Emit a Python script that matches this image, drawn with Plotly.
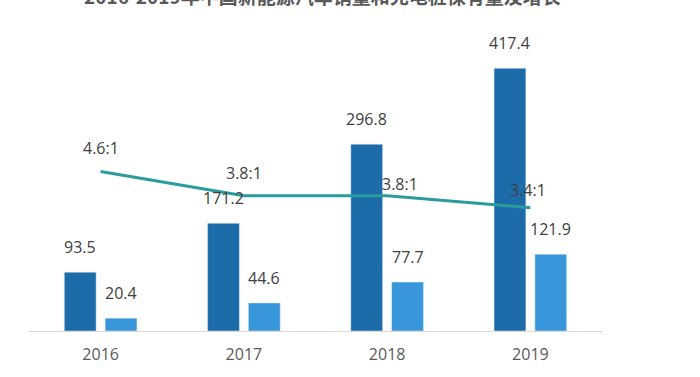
import plotly.graph_objects as go

years = ["2016", "2017", "2018", "2019"]
ev_sales = [93.5, 171.2, 296.8, 417.4]
chargers = [20.4, 44.6, 77.7, 121.9]
ratio = [4.6, 3.8, 3.8, 3.4]
ratio_labels = ["4.6:1", "3.8:1", "3.8:1", "3.4:1"]
title_text = "2016-2019年中国新能源汽车销量和充电桩保有量及增长"

# label offsets (style only)
ratio_xshift = [0, 0, 13, -2]
ratio_yshift = [24, 23, 12, 18]

DARK = "#1d6caa"
LIGHT = "#3797da"
TEAL = "#2a9c9e"
TXT = "#404040"
FONT = "Open Sans, Noto Sans CJK SC, sans-serif"

fig = go.Figure()
fig.add_trace(go.Bar(x=years, y=ev_sales, marker_color=DARK, name="销量", yaxis="y"))
fig.add_trace(go.Bar(x=years, y=chargers, marker_color=LIGHT, name="充电桩", yaxis="y"))
fig.add_trace(go.Scatter(x=years, y=ratio, mode="lines", line=dict(color=TEAL, width=3),
                         yaxis="y2", name="车桩比"))

ann = []
for i, v in enumerate(ev_sales):
    ann.append(dict(x=i, y=v, xref="x", yref="y", text=f"{v:.1f}", showarrow=False,
                    xshift=-20.5, yshift=12, yanchor="bottom",
                    font=dict(size=16, color=TXT, family=FONT)))
for i, v in enumerate(chargers):
    ann.append(dict(x=i, y=v, xref="x", yref="y", text=f"{v:.1f}", showarrow=False,
                    xshift=20.5, yshift=12, yanchor="bottom",
                    font=dict(size=16, color=TXT, family=FONT)))
for i, (v, t, xs, ys) in enumerate(zip(ratio, ratio_labels, ratio_xshift, ratio_yshift)):
    ann.append(dict(x=i, y=v, xref="x", yref="y2", text=t, showarrow=False,
                    xshift=xs, yshift=ys, yanchor="middle",
                    font=dict(size=16, color=TXT, family=FONT)))
ann.append(dict(x=0.512, y=1, xref="paper", yref="paper", text=f"<b>{title_text}</b>",
                showarrow=False, yanchor="middle", yshift=49,
                font=dict(size=19, color="#595959", family="Noto Sans CJK SC, sans-serif")))

fig.update_layout(
    width=700, height=377,
    margin=dict(l=29, r=98, t=44, b=38),
    paper_bgcolor="white", plot_bgcolor="white",
    barmode="group", bargap=0.43, bargroupgap=0.22,
    showlegend=False,
    annotations=ann,
    xaxis=dict(type="category", range=[-0.5, len(years) - 0.5], autorange=False,
               showline=True, linecolor="#d9d9d9", linewidth=1, showgrid=False,
               ticks="", ticklabelstandoff=9,
               tickfont=dict(size=16, color="#595959", family=FONT)),
    yaxis=dict(range=[0, 456], visible=False, showgrid=False),
    yaxis2=dict(range=[-0.69, 8.83], overlaying="y", visible=False, showgrid=False),
)

fig.write_html("out.html", config={"displayModeBar": False},
               post_script="document.body.style.margin='0';")
